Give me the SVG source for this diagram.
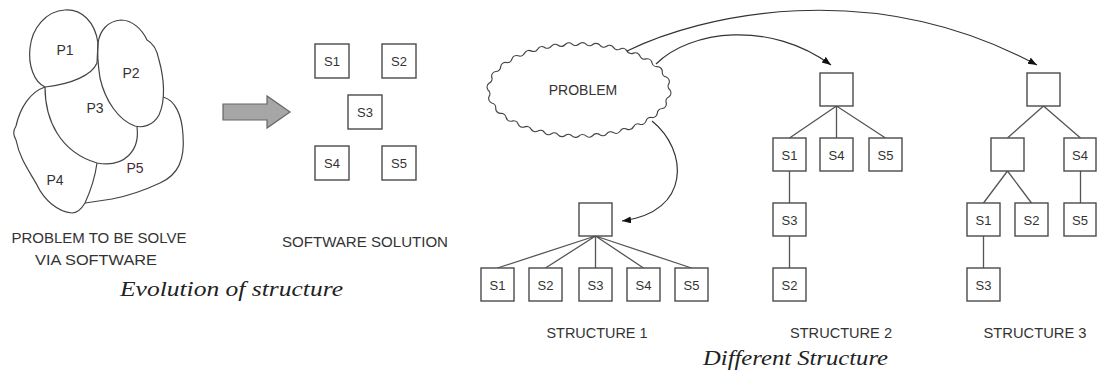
<svg xmlns="http://www.w3.org/2000/svg" width="1097" height="374" viewBox="0 0 1097 374">
<defs>
<style>
.box{fill:#fff;stroke:#4a4a4a;stroke-width:1.4}
.lbl{font-family:"Liberation Sans",Arial,sans-serif;font-size:13px;fill:#333;text-anchor:middle}
.ln{stroke:#555;stroke-width:1.3;fill:none}
.blob{fill:none;stroke:#444;stroke-width:1.2}
.cap{font-family:"Liberation Sans",Arial,sans-serif;font-size:15px;fill:#333;text-anchor:middle}
.title{font-family:"Liberation Serif","Times New Roman",serif;font-style:italic;font-size:21px;fill:#222;text-anchor:middle}
.conn{stroke:#333;stroke-width:1.2;fill:none;marker-end:url(#ah)}
</style>
<marker id="ah" markerUnits="userSpaceOnUse" markerWidth="10" markerHeight="8" refX="9" refY="3.5" orient="auto">
<path d="M0,0 L9,3.5 L0,7 z" fill="#111"/>
</marker>
</defs>
<rect width="1097" height="374" fill="#fff"/>

<!-- Problem blob -->
<g id="problem-blob">
<path class="blob" d="M45,87 C34,82 28,65 30,48 C32,28 46,11 65,10 C82,9 95,22 98,43 L97,63 C92,75 72,84 45,87 Z"/>
<path class="blob" d="M98,43 C100,30 108,21 121,20 C132,20 142,29 147,40 C153,43 157,50 159,60 C164,78 166,100 159,115 C153,126 142,128 135,126 C118,120 105,100 100,78 C98,65 97,55 98,43 Z"/>
<path class="blob" d="M45,87 C45,120 60,152 97,163 C125,168 140,150 137,127"/>
<path class="blob" d="M45,87 C30,92 20,108 16,126 C12,132 14,136 16,140 C20,160 30,172 37,185 C44,200 58,212 72,213 C78,213 82,208 85,203"/>
<path class="blob" d="M97,163 C95,178 90,192 85,203"/>
<path class="blob" d="M163,97 C175,100 182,115 183,135 C185,160 178,175 160,183 C145,190 128,196 112,199 C100,201 92,202 85,203"/>
<text class="lbl" style="font-size:14px" x="65" y="55">P1</text>
<text class="lbl" style="font-size:14px" x="131" y="78">P2</text>
<text class="lbl" style="font-size:14px" x="95" y="113">P3</text>
<text class="lbl" style="font-size:14px" x="55" y="185">P4</text>
<text class="lbl" style="font-size:14px;fill:#4a2a3a" x="135" y="173">P5</text>
</g>
<g id="cap-problem">
<text class="cap" x="99" y="243" textLength="175" lengthAdjust="spacingAndGlyphs">PROBLEM TO BE SOLVE</text>
<text class="cap" x="96" y="265" textLength="122" lengthAdjust="spacingAndGlyphs">VIA SOFTWARE</text>
</g>

<!-- Block arrow -->
<g id="block-arrow">
<path d="M223,104 L267,104 L267,96 L290,112 L267,128 L267,120 L223,120 Z" fill="#a6a6a6" stroke="#666" stroke-width="1.2"/>
</g>

<!-- Software solution -->
<g id="sol-s1"><rect class="box" x="315" y="44" width="34" height="34"/><text class="lbl" x="332" y="66">S1</text></g>
<g id="sol-s2"><rect class="box" x="382" y="44" width="34" height="34"/><text class="lbl" x="399" y="66">S2</text></g>
<g id="sol-s3"><rect class="box" x="348" y="95" width="34" height="34"/><text class="lbl" x="365" y="117">S3</text></g>
<g id="sol-s4"><rect class="box" x="315" y="146" width="34" height="34"/><text class="lbl" x="332" y="168">S4</text></g>
<g id="sol-s5"><rect class="box" x="382" y="146" width="34" height="34"/><text class="lbl" x="399" y="168">S5</text></g>
<g id="cap-solution"><text class="cap" x="365" y="247" textLength="166" lengthAdjust="spacingAndGlyphs">SOFTWARE SOLUTION</text></g>
<g id="title-evolution"><text class="title" x="231.5" y="296" textLength="223" lengthAdjust="spacingAndGlyphs">Evolution of structure</text></g>

<!-- Cloud -->
<g id="cloud">
<path fill="#fff" stroke="#444" stroke-width="1.2" d="M670,90 A5,5 0 0 1 669,96.7 A5,5 0 0 0 666.3,103 A5,5 0 0 1 662.3,108.5 A5,5 0 0 0 657.3,113.4 A5,5 0 0 1 651.9,117.5 A5,5 0 0 0 646,121.1 A5,5 0 0 1 639.8,124.2 A5,5 0 0 0 633.4,126.9 A5,5 0 0 1 626.9,129.1 A5,5 0 0 0 620.2,131 A5,5 0 0 1 613.4,132.6 A5,5 0 0 0 606.6,133.8 A5,5 0 0 1 599.8,134.8 A5,5 0 0 0 592.8,135.5 A5,5 0 0 1 586,135.9 A5,5 0 0 0 579,136 A5,5 0 0 1 572,135.9 A5,5 0 0 0 565.2,135.5 A5,5 0 0 1 558.2,134.8 A5,5 0 0 0 551.4,133.8 A5,5 0 0 1 544.6,132.6 A5,5 0 0 0 537.8,131 A5,5 0 0 1 531.1,129.1 A5,5 0 0 0 524.6,126.9 A5,5 0 0 1 518.2,124.2 A5,5 0 0 0 512,121.1 A5,5 0 0 1 506.1,117.5 A5,5 0 0 0 500.7,113.4 A5,5 0 0 1 495.7,108.5 A5,5 0 0 0 491.7,103 A5,5 0 0 1 489,96.7 A5,5 0 0 0 488,90 A5,5 0 0 1 489,83.3 A5,5 0 0 0 491.7,77 A5,5 0 0 1 495.7,71.5 A5,5 0 0 0 500.7,66.6 A5,5 0 0 1 506.1,62.5 A5,5 0 0 0 512,58.9 A5,5 0 0 1 518.2,55.8 A5,5 0 0 0 524.6,53.1 A5,5 0 0 1 531.1,50.9 A5,5 0 0 0 537.8,49 A5,5 0 0 1 544.6,47.4 A5,5 0 0 0 551.4,46.2 A5,5 0 0 1 558.2,45.2 A5,5 0 0 0 565.2,44.5 A5,5 0 0 1 572,44.1 A5,5 0 0 0 579,44 A5,5 0 0 1 586,44.1 A5,5 0 0 0 592.8,44.5 A5,5 0 0 1 599.8,45.2 A5,5 0 0 0 606.6,46.2 A5,5 0 0 1 613.4,47.4 A5,5 0 0 0 620.2,49 A5,5 0 0 1 626.9,50.9 A5,5 0 0 0 633.4,53.1 A5,5 0 0 1 639.8,55.8 A5,5 0 0 0 646,58.9 A5,5 0 0 1 651.9,62.5 A5,5 0 0 0 657.3,66.6 A5,5 0 0 1 662.3,71.5 A5,5 0 0 0 666.3,77 A5,5 0 0 1 669,83.3 A5,5 0 0 0 670,90 Z"/>
<text class="lbl" style="font-size:14px" x="583" y="95">PROBLEM</text>
</g>

<!-- Connectors -->
<g id="connectors">
<path class="conn" d="M652,121 C688,150 692,212 622,221"/>
<path class="conn" d="M656,64 C690,30 770,20 831,65"/>
<path class="conn" d="M627,51 C700,15 870,-25 1037,65"/>
<!-- structure 1 -->
<path class="ln" d="M595.5,236 L497.5,268 M595.5,236 L545.5,268 M595.5,236 L595.5,268 M595.5,236 L643.5,268 M595.5,236 L691.5,268"/>
<!-- structure 2 -->
<path class="ln" d="M836.5,106 L789.5,138 M836.5,106 L836.5,138 M836.5,106 L885.5,138 M789.5,171 L789.5,203 M789.5,236 L789.5,268"/>
<!-- structure 3 -->
<path class="ln" d="M1043.5,106 L1007.5,138 M1043.5,106 L1080.5,138 M1007.5,171 L983.5,203 M1007.5,171 L1031.5,203 M1080.5,171 L1080.5,203 M983.5,236 L983.5,268"/>
</g>

<!-- Structure 1 -->
<g id="s1-root"><rect class="box" x="579" y="203" width="33" height="33"/></g>
<g id="s1-s1"><rect class="box" x="481" y="268" width="33" height="33"/><text class="lbl" x="497.5" y="289.5">S1</text></g>
<g id="s1-s2"><rect class="box" x="529" y="268" width="33" height="33"/><text class="lbl" x="545.5" y="289.5">S2</text></g>
<g id="s1-s3"><rect class="box" x="579" y="268" width="33" height="33"/><text class="lbl" x="595.5" y="289.5">S3</text></g>
<g id="s1-s4"><rect class="box" x="627" y="268" width="33" height="33"/><text class="lbl" x="643.5" y="289.5">S4</text></g>
<g id="s1-s5"><rect class="box" x="675" y="268" width="33" height="33"/><text class="lbl" x="691.5" y="289.5">S5</text></g>
<g id="cap-structure1"><text class="cap" x="597" y="338" textLength="101" lengthAdjust="spacingAndGlyphs">STRUCTURE 1</text></g>

<!-- Structure 2 -->
<g id="s2-root"><rect class="box" x="820" y="73" width="33" height="33"/></g>
<g id="s2-s1"><rect class="box" x="773" y="138" width="33" height="33"/><text class="lbl" x="789.5" y="159.5">S1</text></g>
<g id="s2-s4"><rect class="box" x="820" y="138" width="33" height="33"/><text class="lbl" x="836.5" y="159.5">S4</text></g>
<g id="s2-s5"><rect class="box" x="869" y="138" width="33" height="33"/><text class="lbl" x="885.5" y="159.5">S5</text></g>
<g id="s2-s3"><rect class="box" x="773" y="203" width="33" height="33"/><text class="lbl" x="789.5" y="224.5">S3</text></g>
<g id="s2-s2"><rect class="box" x="773" y="268" width="33" height="33"/><text class="lbl" x="789.5" y="289.5">S2</text></g>
<g id="cap-structure2"><text class="cap" x="841" y="338" textLength="102" lengthAdjust="spacingAndGlyphs">STRUCTURE 2</text></g>

<!-- Structure 3 -->
<g id="s3-root"><rect class="box" x="1027" y="73" width="33" height="33"/></g>
<g id="s3-inner"><rect class="box" x="991" y="138" width="33" height="33"/></g>
<g id="s3-s4"><rect class="box" x="1064" y="138" width="32" height="33"/><text class="lbl" x="1080" y="159.5">S4</text></g>
<g id="s3-s1"><rect class="box" x="967" y="203" width="33" height="33"/><text class="lbl" x="983.5" y="224.5">S1</text></g>
<g id="s3-s2"><rect class="box" x="1015" y="203" width="33" height="33"/><text class="lbl" x="1031.5" y="224.5">S2</text></g>
<g id="s3-s5"><rect class="box" x="1064" y="203" width="32" height="33"/><text class="lbl" x="1080" y="224.5">S5</text></g>
<g id="s3-s3"><rect class="box" x="967" y="268" width="33" height="33"/><text class="lbl" x="983.5" y="289.5">S3</text></g>
<g id="cap-structure3"><text class="cap" x="1035" y="338" textLength="103" lengthAdjust="spacingAndGlyphs">STRUCTURE 3</text></g>

<g id="title-different"><text class="title" x="795.5" y="365" textLength="185" lengthAdjust="spacingAndGlyphs">Different Structure</text></g>
</svg>
